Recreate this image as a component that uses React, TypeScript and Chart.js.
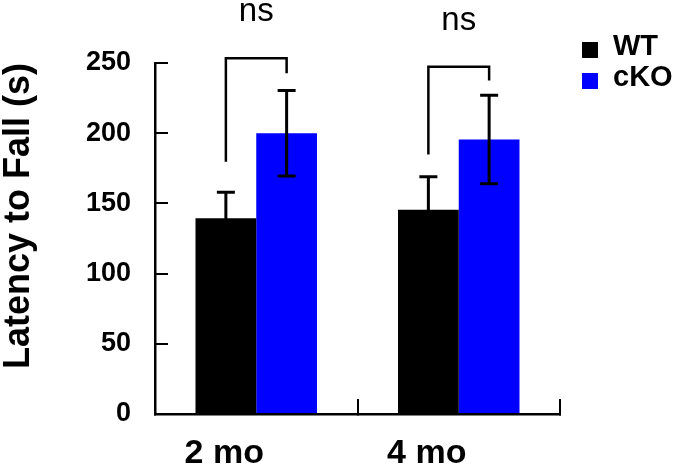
import React, { useEffect, useRef } from 'react';
import { Chart, registerables } from 'chart.js';

Chart.register(...registerables);

// ---- data ----
const categories = ['2 mo', '4 mo'];
const seriesNames = ['WT', 'cKO'];
const wtValues = [139.5, 145.5];
const wtErrors = [18.5, 23.5];
const ckoValues = [200, 195.5];
const ckoErrors = [30.5, 31.5];
const yTicks = [0, 50, 100, 150, 200, 250];
const bracketTops = [253.3, 247.3];
const bracketLeftEnds = [179.7, 184.9];
const bracketRightEnds = [242.7, 237.6];
const significance = ['ns', 'ns'];

const errorSets = [wtErrors, ckoErrors];
const seriesColors = ['#000000', '#0000FF'];
const FONT = "Arial, 'Liberation Sans', Helvetica, sans-serif";

const errorBarPlugin = {
  id: 'errorBars',
  afterDatasetsDraw(chart: any) {
    const ctx = chart.ctx;
    const y = chart.scales.y;
    chart.data.datasets.forEach((ds: any, i: number) => {
      const meta = chart.getDatasetMeta(i);
      const errs = errorSets[i];
      meta.data.forEach((el: any, j: number) => {
        const v = ds.data[j];
        const e = errs[j];
        const top = y.getPixelForValue(v + e);
        const bot = y.getPixelForValue(v - e);
        ctx.save();
        ctx.strokeStyle = '#000';
        ctx.lineWidth = 3;
        ctx.beginPath();
        ctx.moveTo(el.x, top);
        ctx.lineTo(el.x, bot);
        ctx.moveTo(el.x - 9, top);
        ctx.lineTo(el.x + 9, top);
        ctx.moveTo(el.x - 9, bot);
        ctx.lineTo(el.x + 9, bot);
        ctx.stroke();
        ctx.restore();
      });
    });
  },
};

const bracketPlugin = {
  id: 'brackets',
  afterDraw(chart: any) {
    const ctx = chart.ctx;
    const y = chart.scales.y;
    const m0 = chart.getDatasetMeta(0);
    const m1 = chart.getDatasetMeta(1);
    categories.forEach((_, j) => {
      const xl = m0.data[j].x;
      const xr = m1.data[j].x;
      const yt = y.getPixelForValue(bracketTops[j]);
      const yl = y.getPixelForValue(bracketLeftEnds[j]);
      const yr = y.getPixelForValue(bracketRightEnds[j]);
      ctx.save();
      ctx.strokeStyle = '#000';
      ctx.lineWidth = 2.5;
      ctx.lineJoin = 'miter';
      ctx.beginPath();
      ctx.moveTo(xl, yl);
      ctx.lineTo(xl, yt);
      ctx.lineTo(xr, yt);
      ctx.lineTo(xr, yr);
      ctx.stroke();
      ctx.fillStyle = '#000';
      ctx.font = `33px ${FONT}`;
      ctx.textAlign = 'center';
      ctx.textBaseline = 'alphabetic';
      ctx.fillText(significance[j], (xl + xr) / 2, yt - 37);
      ctx.restore();
    });
  },
};

const legendPlugin = {
  id: 'customLegend',
  afterDraw(chart: any) {
    const ctx = chart.ctx;
    ctx.save();
    chart.data.datasets.forEach((ds: any, i: number) => {
      ctx.fillStyle = ds.backgroundColor;
      ctx.fillRect(582, 42 + i * 31, 16, 16);
      ctx.fillStyle = '#000';
      ctx.font = `bold 29px ${FONT}`;
      ctx.textAlign = 'left';
      ctx.textBaseline = 'alphabetic';
      ctx.fillText(ds.label, 613, 55 + i * 30.5);
    });
    ctx.restore();
  },
};

export default function App() {
  const ref = useRef<HTMLCanvasElement | null>(null);

  useEffect(() => {
    if (!ref.current) return;
    const chart = new Chart(ref.current, {
      type: 'bar',
      data: {
        labels: categories,
        datasets: [
          {
            label: seriesNames[0],
            data: wtValues,
            backgroundColor: seriesColors[0],
            borderWidth: 0,
            categoryPercentage: 0.6,
            barPercentage: 1.0,
          },
          {
            label: seriesNames[1],
            data: ckoValues,
            backgroundColor: seriesColors[1],
            borderWidth: 0,
            categoryPercentage: 0.6,
            barPercentage: 1.0,
          },
        ],
      },
      options: {
        responsive: false,
        animation: false,
        layout: { padding: { top: 63, right: 117, left: 0, bottom: 0 } },
        plugins: {
          legend: { display: false },
          tooltip: { enabled: false },
        },
        scales: {
          x: {
            type: 'category',
            offset: true,
            grid: {
              display: true,
              drawOnChartArea: false,
              drawTicks: true,
              tickLength: -15,
              color: '#000',
              lineWidth: 2,
              offset: true,
            },
            border: { display: true, color: '#000', width: 2.5 },
            ticks: {
              color: '#000',
              font: { family: FONT, size: 34, weight: 'bold' },
              padding: 34,
              labelOffset: -32,
              maxRotation: 0,
              autoSkip: false,
            },
            afterFit: (s: any) => {
              s.height = 55;
            },
          },
          y: {
            min: 0,
            max: 250,
            afterBuildTicks: (s: any) => {
              s.ticks = yTicks.map((v) => ({ value: v }));
            },
            grid: {
              display: true,
              drawOnChartArea: false,
              drawTicks: true,
              tickLength: -13,
              color: '#000',
              lineWidth: 2,
            },
            border: { display: true, color: '#000', width: 2.5 },
            ticks: {
              color: '#000',
              font: { family: FONT, size: 27, weight: 'bold' },
              padding: 37,
            },
            title: {
              display: true,
              text: 'Latency to Fall (s)',
              color: '#000',
              align: 'end',
              font: { family: FONT, size: 36, weight: 'bold', lineHeight: 1 },
              padding: { top: 1, bottom: 0 },
            },
            afterFit: (s: any) => {
              s.width = 155;
            },
          },
        },
      } as any,
      plugins: [errorBarPlugin, bracketPlugin, legendPlugin],
    });
    return () => chart.destroy();
  }, []);

  return (
    <div style={{ position: 'fixed', left: 0, top: 0, width: 677, height: 469, background: '#fff' }}>
      <canvas ref={ref} width={677} height={469} style={{ display: 'block' }} />
    </div>
  );
}
